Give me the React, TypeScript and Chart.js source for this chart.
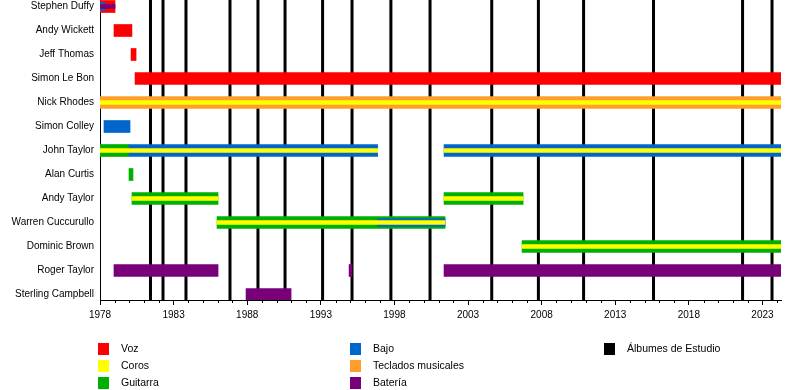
import React, { useEffect, useRef } from 'react';
import { Chart, registerables } from 'chart.js';

Chart.register(...registerables);

const START = 1978;
const END = 2024.26;

const members = [
  'Stephen Duffy',
  'Andy Wickett',
  'Jeff Thomas',
  'Simon Le Bon',
  'Nick Rhodes',
  'Simon Colley',
  'John Taylor',
  'Alan Curtis',
  'Andy Taylor',
  'Warren Cuccurullo',
  'Dominic Brown',
  'Roger Taylor',
  'Sterling Campbell',
];

// [member index, start year, end year]
const vozSpans = [[0, 1978, 1979.02], [1, 1978.95, 1980.17], [2, 1980.11, 1980.45], [3, 1980.38, END]];
const tecladosSpans = [[4, 1978, END]];
const bajoSpans = [[5, 1978.27, 1980.04], [6, 1979.97, 1996.86], [6, 2001.37, END]];
const guitarraSpans = [
  [6, 1978, 1979.97], [7, 1979.97, 1980.24], [8, 1980.17, 1986.02], [8, 2001.37, 2006.74],
  [9, 1985.95, 2001.44], [10, 2006.67, END],
];
const bateriaSpans = [[11, 1978.95, 1986.02], [11, 1994.92, 1995.12], [11, 2001.37, END], [12, 1987.92, 1990.98]];
// secondary roles (narrower stripes)
const bajoSecondary = [[0, 1978, 1978.33], [9, 1996.86, 2001.44]];
const bateriaSecondary = [[0, 1978, 1979.02]];
const corosSpans = [
  [4, 1978, END], [6, 1978, 1996.86], [6, 2001.37, END], [8, 1980.17, 1986.02],
  [8, 2001.37, 2006.74], [9, 1985.95, 2001.44], [10, 2006.67, END],
];

const albumYears = [
  1981.43, 1982.28, 1983.84, 1986.83, 1988.73, 1990.57, 1993.12, 1995.12,
  1997.76, 2000.42, 2004.61, 2007.78, 2010.85, 2015.6, 2021.65, 2023.65,
];

const majorTicks = [1978, 1983, 1988, 1993, 1998, 2003, 2008, 2013, 2018, 2023];

const legendLabels = ['Voz', 'Coros', 'Guitarra', 'Bajo', 'Teclados musicales', 'Batería', 'Álbumes de Estudio'];

const RED = '#ff0000';
const YELLOW = '#ffff00';
const GREEN = '#00b000';
const BLUE = '#0066cc';
const ORANGE = '#ff9e2a';
const PURPLE = '#780078';
const BLACK = '#000000';
const legendColors = [RED, YELLOW, GREEN, BLUE, ORANGE, PURPLE, BLACK];

const FONT = 'Liberation Sans';

function toData(spans: number[][]) {
  return spans.map(([i, s, e]) => ({ x: [s, e], y: i }));
}

function bars(label: string, spans: number[][], color: string, thickness: number, order: number) {
  return {
    label,
    data: toData(spans),
    backgroundColor: color,
    barThickness: thickness,
    grouped: false,
    borderWidth: 0,
    borderSkipped: false,
    order,
  };
}

const overlayPlugin = {
  id: 'overlay',
  beforeDatasetsDraw(chart: any) {
    const { ctx, chartArea: a, scales } = chart;
    const x = scales.x;
    ctx.save();
    ctx.beginPath();
    ctx.rect(a.left, a.top, a.right - a.left, a.bottom - a.top);
    ctx.clip();
    ctx.strokeStyle = BLACK;
    ctx.lineWidth = 3;
    for (const yr of albumYears) {
      const px = x.getPixelForValue(yr);
      ctx.beginPath();
      ctx.moveTo(px, a.top);
      ctx.lineTo(px, a.bottom);
      ctx.stroke();
    }
    ctx.restore();
  },
  afterDraw(chart: any) {
    const { ctx, chartArea: a, scales } = chart;
    const x = scales.x;
    ctx.save();
    ctx.strokeStyle = BLACK;
    ctx.lineWidth = 1;
    for (let yr = START + 1; yr <= Math.floor(END); yr++) {
      if ((yr - START) % 5 === 0) continue;
      const px = Math.round(x.getPixelForValue(yr)) + 0.5;
      ctx.beginPath();
      ctx.moveTo(px, a.bottom);
      ctx.lineTo(px, a.bottom + 3);
      ctx.stroke();
    }
    // legend
    const colX = [98, 350, 604];
    const rowY = [349, 366, 383];
    ctx.font = `10.5px "${FONT}"`;
    ctx.textBaseline = 'middle';
    ctx.textAlign = 'left';
    legendLabels.forEach((lab, k) => {
      const c = Math.floor(k / 3);
      const r = k % 3;
      ctx.fillStyle = legendColors[k];
      ctx.fillRect(colX[c], rowY[r] - 6, 11, 12);
      ctx.fillStyle = '#000';
      ctx.fillText(lab, colX[c] + 23, rowY[r]);
    });
    ctx.restore();
  },
};

export default function App() {
  const ref = useRef<HTMLCanvasElement>(null);
  useEffect(() => {
    if (!ref.current) return;
    const chart = new Chart(ref.current, {
      type: 'bar',
      data: {
        datasets: [
          bars('Coros', corosSpans, YELLOW, 4, 1),
          bars('Batería (2)', bateriaSecondary, PURPLE, 4, 1),
          bars('Bajo (2)', bajoSecondary, BLUE, 8, 2),
          bars('Voz', vozSpans, RED, 12, 3),
          bars('Teclados musicales', tecladosSpans, ORANGE, 12, 3),
          bars('Bajo', bajoSpans, BLUE, 12, 3),
          bars('Guitarra', guitarraSpans, GREEN, 12, 3),
          bars('Batería', bateriaSpans, PURPLE, 12, 3),
        ] as any,
      },
      options: {
        animation: false,
        responsive: false,
        indexAxis: 'y',
        layout: { padding: { left: 0, top: 0, right: 19, bottom: 60 } },
        plugins: { legend: { display: false }, tooltip: { enabled: false } },
        scales: {
          x: {
            type: 'linear',
            min: START,
            max: END,
            offset: false,
            afterBuildTicks: (s: any) => {
              s.ticks = majorTicks.map((v) => ({ value: v }));
            },
            ticks: {
              callback: (v: any) => String(v),
              font: { family: FONT, size: 10 },
              color: '#000',
              padding: 4,
              maxRotation: 0,
              autoSkip: false,
            },
            grid: { drawOnChartArea: false, drawTicks: true, tickLength: 5, color: BLACK, offset: false },
            border: { display: true, color: BLACK, width: 1 },
            afterFit: (s: any) => {
              s.height = 30;
              s.paddingLeft = 0;
              s.paddingRight = 0;
            },
          },
          y: {
            type: 'linear',
            reverse: true,
            offset: false,
            min: -6.5 / 24,
            max: 12 + 5.5 / 24,
            z: 1,
            afterBuildTicks: (s: any) => {
              s.ticks = members.map((_, i) => ({ value: i }));
            },
            ticks: {
              callback: (v: any) => members[v] ?? '',
              font: { family: FONT, size: 10 },
              color: '#000',
              padding: 6,
              autoSkip: false,
            },
            grid: { display: false, drawTicks: false, offset: false },
            border: { display: true, color: BLACK, width: 1 },
            afterFit: (s: any) => {
              s.width = 100;
              s.paddingTop = 0;
              s.paddingBottom = 0;
            },
          },
        },
      } as any,
      plugins: [overlayPlugin],
    });
    return () => chart.destroy();
  }, []);
  return (
    <div style={{ position: 'absolute', left: 0, top: 0, width: 800, height: 390, background: '#fff' }}>
      <canvas ref={ref} width={800} height={390} style={{ display: 'block' }} />
    </div>
  );
}
